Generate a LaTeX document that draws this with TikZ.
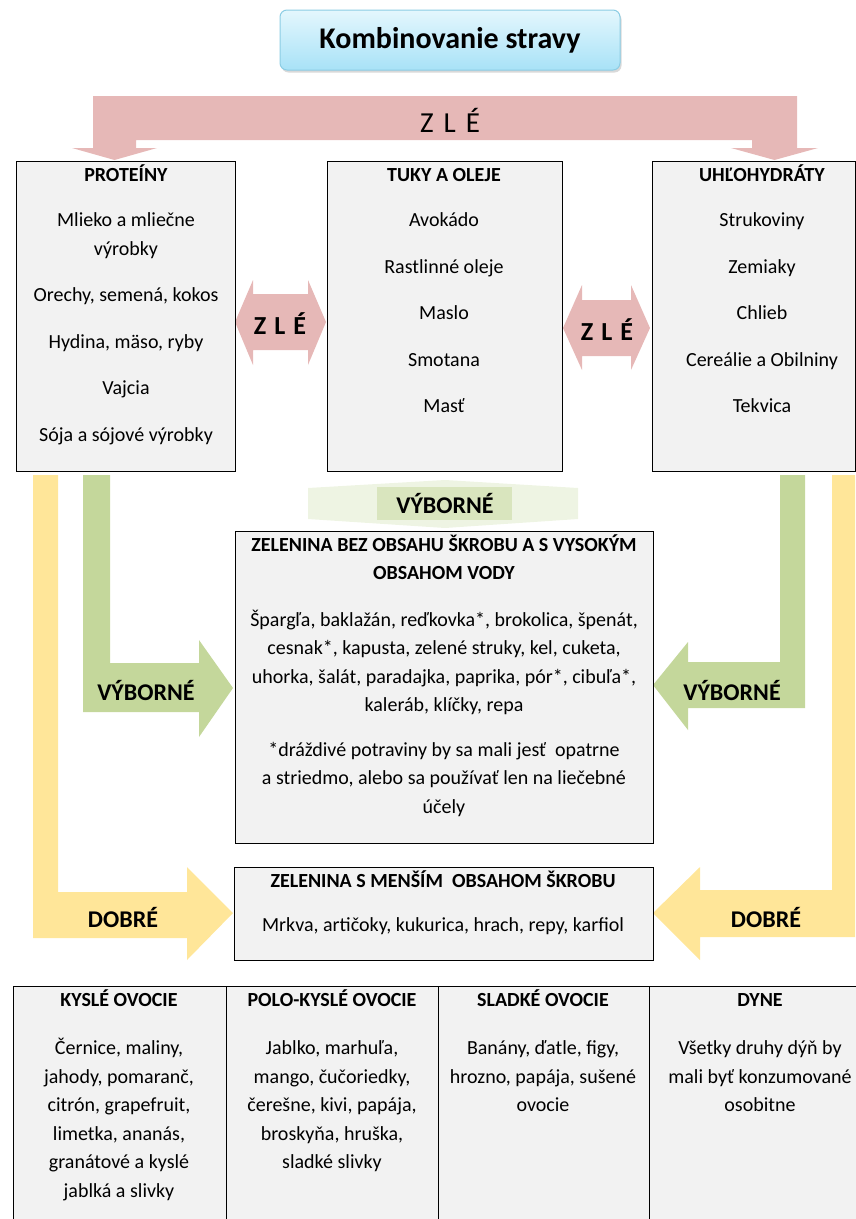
\documentclass[tikz,border=0pt]{standalone}
\usepackage{fontspec}
\setmainfont{Carlito}
\usepackage{tikz}
\usetikzlibrary{shadows}
\definecolor{zlered}{HTML}{E6B8B7}
\definecolor{vybgreen}{HTML}{C4D79B}
\definecolor{dobyellow}{HTML}{FFE699}
\definecolor{boxgray}{HTML}{F2F2F2}
\definecolor{titletop}{HTML}{E4F7FD}
\definecolor{titlebot}{HTML}{A8E2F7}
\definecolor{titleedge}{HTML}{8CCDE4}
\newcommand{\bodysize}{\fontsize{20}{28.5}\selectfont}
\newcommand{\headline}[1]{\strut\textbf{#1}}

\begin{document}
\begin{tikzpicture}[x=1pt,y=-1pt,
    foodbox/.style={draw=black,line width=1.3pt,fill=boxgray,anchor=north west,inner sep=0pt},
    foodtext/.style={anchor=north,align=center,inner sep=0pt,font=\bodysize},
    arrowlabel/.style={font=\fontsize{24}{28}\selectfont\bfseries,inner sep=0pt}]

      \useasboundingbox (0,0) rectangle (856,1219);

      % title
      \node[draw=titleedge,line width=1pt,rounded corners=7pt,top color=titletop,bottom color=titlebot,
            drop shadow={shadow xshift=1.5pt,shadow yshift=-2.5pt,opacity=0.3},
            minimum width=340pt,minimum height=60pt,font=\fontsize{30}{32}\selectfont\bfseries] (title) at (450,40) {Kombinovanie stravy};

      % ZLE arrows
      \fill[zlered] (93,96) -- (797,96) -- (797,148) -- (818,148) -- (774.5,160) -- (731,148) -- (752,148) -- (752,140)
            -- (136,140) -- (136,148) -- (157,148) -- (114.5,160) -- (72,148) -- (93,148) -- cycle;
      \node[font=\fontsize{29}{30}\selectfont,inner sep=0pt] (zletop) at (450,120) {Z\hspace{10pt}L\hspace{10pt}É};

      \fill[zlered] (235,322) -- (253,280) -- (253,294) -- (308,294) -- (308,280) -- (326,322)
            -- (308,365) -- (308,350) -- (253,350) -- (253,365) -- cycle;
      \node[font=\fontsize{26}{30}\selectfont\bfseries,inner sep=0pt] (zleleft) at (280,324) {Z\hspace{8pt}L\hspace{8pt}É};

      \fill[zlered] (563,328) -- (582,285) -- (582,300) -- (631,300) -- (631,285) -- (650,328)
            -- (631,370) -- (631,356) -- (582,356) -- (582,370) -- cycle;
      \node[font=\fontsize{26}{30}\selectfont\bfseries,inner sep=0pt] (zleright) at (607,330) {Z\hspace{8pt}L\hspace{8pt}É};

      % VYBORNE / DOBRE arrows
      \fill[vybgreen!28] (308,488) -- (445,480) -- (578,488) -- (578,519) -- (445,528) -- (308,519) -- cycle;
      \fill[vybgreen!65] (377,487) rectangle (512,520);
      \node[arrowlabel] (vybmid) at (445,503) {VÝBORNÉ};

      \fill[dobyellow] (33,475) -- (58,475) -- (58,892) -- (187,892) -- (187,867) -- (233,913)
            -- (187,960) -- (187,938) -- (33,938) -- cycle;
      \fill[vybgreen] (83,475) -- (110,475) -- (110,663) -- (199,663) -- (199,640) -- (233,688)
            -- (199,737) -- (199,712) -- (83,712) -- cycle;
      \node[arrowlabel] (vybleft) at (146,690) {VÝBORNÉ};
      \node[arrowlabel] (dobleft) at (123,917) {DOBRÉ};

      \fill[dobyellow] (855,475) -- (832,475) -- (832,890) -- (700,890) -- (700,867) -- (653,913)
            -- (700,960) -- (700,937) -- (855,937) -- cycle;
      \fill[vybgreen] (805,475) -- (780,475) -- (780,662) -- (688,662) -- (688,642) -- (653,685)
            -- (688,730) -- (688,708) -- (805,708) -- cycle;
      \node[arrowlabel] (vybright) at (732,690) {VÝBORNÉ};
      \node[arrowlabel] (dobright) at (766,917) {DOBRÉ};

      % food groups
      \node[foodbox,minimum width=219pt,minimum height=310pt] (prot) at (16,161) {};
      \node[foodbox,minimum width=235pt,minimum height=310pt] (tuky) at (327,161) {};
      \node[foodbox,minimum width=203pt,minimum height=310pt] (uhl) at (652,161) {};
      \node[foodbox,minimum width=418pt,minimum height=312pt] (zel) at (235,531) {};
      \node[foodbox,minimum width=419pt,minimum height=93pt] (zelskrob) at (234,867) {};

      \node[foodtext] (protlist) at (126,161) {\headline{PROTEÍNY}\\[17pt]Mlieko a mliečne\\výrobky\\[18pt]Orechy, semená, kokos\\[18pt]%
            Hydina, mäso, ryby\\[18pt]Vajcia\\[18pt]Sója a sójové výrobky};
      \node[foodtext] (tukylist) at (444,161) {\headline{TUKY A OLEJE}\\[17pt]Avokádo\\[18pt]Rastlinné oleje\\[18pt]Maslo\\[18pt]%
            Smotana\\[18pt]Masť};
      \node[foodtext] (uhllist) at (762,161) {\headline{UHĽOHYDRÁTY}\\[17pt]Strukoviny\\[18pt]Zemiaky\\[18pt]Chlieb\\[18pt]%
            Cereálie a Obilniny\\[18pt]Tekvica};
      \node[foodtext] (zellist) at (444,531) {\headline{ZELENINA BEZ OBSAHU ŠKROBU A S VYSOKÝM}\\\textbf{OBSAHOM VODY}\\[18pt]%
            Špargľa, baklažán, reďkovka*, brokolica, špenát,\\cesnak*, kapusta, zelené struky, kel, cuketa,\\%
            uhorka, šalát, paradajka, paprika, pór*, cibuľa*,\\kaleráb, klíčky, repa\\[16pt]%
            *dráždivé potraviny by sa mali jesť\ \ opatrne\\a striedmo, alebo sa používať len na liečebné\\účely};
      \node[foodtext] (zelskroblist) at (443,867) {\headline{ZELENINA S MENŠÍM\ \ OBSAHOM ŠKROBU}\\[16pt]%
            Mrkva, artičoky, kukurica, hrach, repy, karfiol};

      % fruit table
      \node[foodbox,minimum width=213pt,minimum height=240pt] (kysle) at (13,986) {};
      \node[foodbox,minimum width=212pt,minimum height=240pt] (polo) at (226,986) {};
      \node[foodbox,minimum width=211pt,minimum height=240pt] (sladke) at (438,986) {};
      \node[foodbox,minimum width=230pt,minimum height=240pt] (dyne) at (649,986) {};

      \node[foodtext] (kyslelist) at (119,986) {\headline{KYSLÉ OVOCIE}\\[20pt]Černice, maliny,\\jahody, pomaranč,\\citrón, grapefruit,\\%
            limetka, ananás,\\granátové a kyslé\\jablká a slivky};
      \node[foodtext] (pololist) at (332,986) {\headline{POLO-KYSLÉ OVOCIE}\\[20pt]Jablko, marhuľa,\\mango, čučoriedky,\\%
            čerešne, kivi, papája,\\broskyňa, hruška,\\sladké slivky};
      \node[foodtext] (sladkelist) at (543,986) {\headline{SLADKÉ OVOCIE}\\[20pt]Banány, ďatle, figy,\\hrozno, papája, sušené\\ovocie};
      \node[foodtext] (dynelist) at (760,986) {\headline{DYNE}\\[20pt]Všetky druhy dýň by\\mali byť konzumované\\osobitne};

    \end{tikzpicture}
\end{document}
